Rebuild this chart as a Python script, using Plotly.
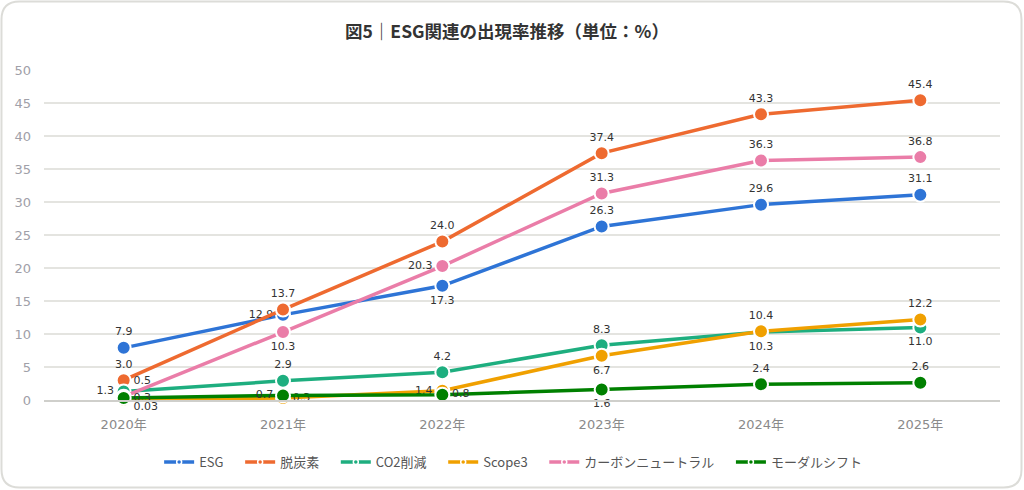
import plotly.graph_objects as go

# 出現率データ（単位：%）
years = ['2020年', '2021年', '2022年', '2023年', '2024年', '2025年']

esg = [7.9, 12.9, 17.3, 26.3, 29.6, 31.1]
datsutanso = [3.0, 13.7, 24.0, 37.4, 43.3, 45.4]
co2 = [1.3, 2.9, 4.2, 8.3, 10.3, 11.0]
scope3 = [0.03, 0.3, 1.4, 6.7, 10.4, 12.2]
carbon_neutral = [0.5, 10.3, 20.3, 31.3, 36.3, 36.8]
modal_shift = [0.3, 0.7, 0.8, 1.6, 2.4, 2.6]

labels_esg = ['7.9', '12.9', '17.3', '26.3', '29.6', '31.1']
labels_datsu = ['3.0', '13.7', '24.0', '37.4', '43.3', '45.4']
labels_co2 = ['1.3', '2.9', '4.2', '8.3', '10.3', '11.0']
labels_scope3 = ['<br>0.03', '0.3', '1.4', '6.7', '10.4', '12.2']
labels_cn = ['0.5', '10.3', '20.3', '31.3', '36.3', '36.8']
labels_modal = ['0.3', '0.7', '0.8', '1.6', '2.4', '2.6']

W, H = 1024, 490
ML, MR, MT, MB = 44, 24, 70, 90
NUM_FONT = 'DejaVu Sans'
JP_FONT = 'Noto Sans CJK JP'
GAP = '\u00a0' * 4  # 凡例の項目間隔

series = [
    ('ESG', esg, labels_esg, '#2e74d6',
     ['top center', 'middle left', 'bottom center', 'top center', 'top center', 'top center']),
    ('脱炭素', datsutanso, labels_datsu, '#ee6a30',
     ['top center'] * 6),
    ('CO2削減', co2, labels_co2, '#1eae7f',
     ['middle left', 'top center', 'top center', 'top center', 'bottom center', 'bottom center']),
    ('Scope3', scope3, labels_scope3, '#f0a000',
     ['middle right', 'middle right', 'middle left', 'bottom center', 'top center', 'top center']),
    ('カーボンニュートラル', carbon_neutral, labels_cn, '#ea7da8',
     ['top right', 'bottom center', 'middle left', 'top center', 'top center', 'top center']),
    ('モーダルシフト', modal_shift, labels_modal, '#008000',
     ['middle right', 'middle left', 'middle right', 'bottom center', 'top center', 'top center']),
]

fig = go.Figure()
for name, vals, txt, col, pos in series:
    fig.add_trace(go.Scatter(
        x=years, y=vals, name=name, mode='lines+markers+text',
        text=txt, textposition=pos, legendgroup=name, showlegend=False,
        textfont=dict(size=11, color='#333333', family=NUM_FONT),
        line=dict(color=col, width=3.5),
        marker=dict(size=14, color=col, line=dict(color='white', width=2)),
        cliponaxis=False,
    ))

# 凡例用（小さいマーカー）
for name, vals, txt, col, pos in series:
    fig.add_trace(go.Scatter(
        x=[None], y=[None], name=name + GAP, mode='lines+markers', legendgroup=name,
        line=dict(color=col, width=3.5),
        marker=dict(size=5, color=col, line=dict(color='white', width=1.5)),
    ))


def px2paper(x, y):
    pw = W - ML - MR
    ph = H - MT - MB
    return (x - ML) / pw, (H - MB - y) / ph


# 角丸の枠線
def rounded_path(x0, y0, x1, y1, r):
    pts = [('M', x0 + r, y0), ('L', x1 - r, y0), ('Q', x1, y0, x1, y0 + r),
           ('L', x1, y1 - r), ('Q', x1, y1, x1 - r, y1), ('L', x0 + r, y1),
           ('Q', x0, y1, x0, y1 - r), ('L', x0, y0 + r), ('Q', x0, y0, x0 + r, y0)]
    out = ''
    for p in pts:
        cmd = p[0]
        coords = p[1:]
        s = []
        for i in range(0, len(coords), 2):
            px, py = px2paper(coords[i], coords[i + 1])
            s.append(f'{px:.5f},{py:.5f}')
        out += cmd + ' '.join(s) + ' '
    return out + 'Z'


fig.add_shape(type='path', xref='paper', yref='paper',
              path=rounded_path(1.5, 1.5, 1021.5, 487.5, 18),
              line=dict(color='#dcdcd8', width=2), layer='below')

fig.update_layout(
    width=W, height=H,
    margin=dict(l=ML, r=MR, t=MT, b=MB),
    paper_bgcolor='white', plot_bgcolor='white',
    font=dict(family=NUM_FONT + ', ' + JP_FONT, color='#555555'),
    title=dict(text='<b>図5｜ESG関連の出現率推移（単位：%）</b>',
               x=507 / W, xanchor='center', y=1 - 32 / H, yanchor='middle',
               font=dict(size=17.5, color='#333333', family=JP_FONT)),
    legend=dict(orientation='h', x=0.497, xanchor='center', y=-62 / (H - MT - MB), yanchor='middle',
                font=dict(size=13, color='#555555', family=JP_FONT)),
)
fig.update_xaxes(showgrid=False, showline=True, linecolor='#cfcfcb', linewidth=1.5,
                 ticks='', tickfont=dict(size=13, color='#8a8a8a', family=NUM_FONT + ', ' + JP_FONT),
                 ticklabelstandoff=12, range=[-0.5, 5.5])
fig.update_yaxes(range=[0, 50], dtick=5, showgrid=True, gridcolor='#e4e4e0', gridwidth=1.5,
                 zeroline=False, tickfont=dict(size=13, color='#a0a0a8', family=NUM_FONT),
                 ticklabelstandoff=12)

fig.write_html("out.html", config={'displayModeBar': False},
               post_script="document.body.style.margin='0';")
